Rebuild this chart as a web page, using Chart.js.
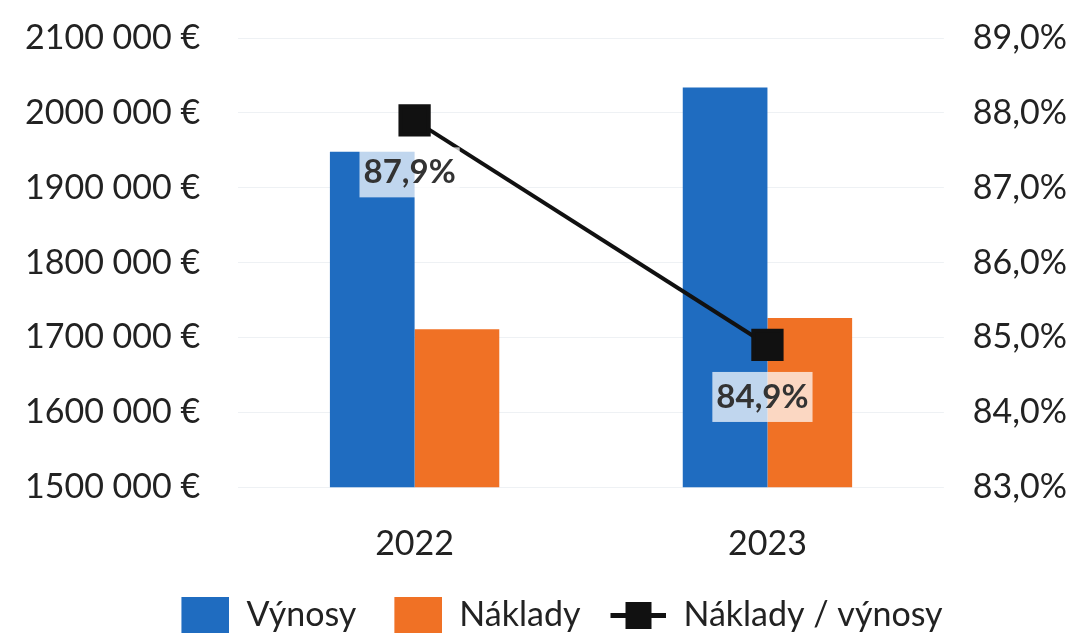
<!DOCTYPE html>
<html>
<head>
<meta charset="utf-8">
<script src="https://cdn.jsdelivr.net/npm/chart.js@4"></script>
<style>
  body { margin: 0; background: #fff; }
  #wrap { width: 1090px; height: 633px; }
</style>
</head>
<body>
<div id="wrap"><canvas id="myChart"></canvas></div>
<script>
const years = ["2022", "2023"];
const vynosy = [1948000, 2034000];
const naklady = [1711000, 1726000];
const pomer = [87.9, 84.9];

const blue = "#1f6cc0";
const orange = "#f07125";

const ctx = document.getElementById("myChart");

// legend icons, drawn at the right end of an 80px wide image
function legendIcon(color, isLine) {
  const cv = document.createElement("canvas");
  cv.width = 80;
  cv.height = 36;
  const g = cv.getContext("2d");
  g.fillStyle = color;
  if (isLine) {
    g.fillRect(24, 16, 56, 5);
    g.fillRect(39, 5, 26, 27);
  } else {
    g.fillRect(32, 0, 48, 36);
  }
  return cv;
}
const icons = [legendIcon(blue), legendIcon(orange), legendIcon("#111", true)];

// labels under the line points, on a pale box
const pointLabels = {
  id: "pointLabels",
  afterDatasetsDraw(chart) {
    const meta = chart.getDatasetMeta(2);
    const c = chart.ctx;
    c.save();
    c.font = "bold 33px Lato";
    c.textAlign = "center";
    c.textBaseline = "middle";
    meta.data.forEach((pt, i) => {
      const txt = pomer[i].toFixed(1).replace(".", ",") + "%";
      const w = c.measureText(txt).width + 8;
      const x = pt.x - 5, y = pt.y + 52;
      c.fillStyle = "rgba(255,255,255,0.72)";
      c.fillRect(x - w / 2, y - 25, w, 50);
      c.fillStyle = "#333";
      c.fillText(txt, x, y);
    });
    c.restore();
  }
};

new Chart(ctx, {
  type: "bar",
  data: {
    labels: years,
    datasets: [
      {
        label: "Výnosy",
        data: vynosy,
        backgroundColor: blue,
        yAxisID: "y",
        order: 2,
      },
      {
        label: "Náklady",
        data: naklady,
        backgroundColor: orange,
        yAxisID: "y",
        order: 2,
      },
      {
        type: "line",
        label: "Náklady / výnosy",
        data: pomer,
        borderColor: "#111",
        backgroundColor: "#111",
        borderWidth: 4,
        pointStyle: "rect",
        pointRadius: 20,
        pointHoverRadius: 20,
        yAxisID: "y1",
        order: 1,
      },
    ],
  },
  plugins: [pointLabels],
  options: {
    responsive: true,
    maintainAspectRatio: false,
    animation: false,
    layout: { autoPadding: false, padding: { left: 23, right: 21, top: 38, bottom: -9 } },
    datasets: {
      bar: { categoryPercentage: 0.48, barPercentage: 1 },
    },
    plugins: {
      tooltip: { enabled: false },
      legend: {
        position: "bottom",
        labels: {
          font: { family: "Lato", size: 34 },
          color: "#222",
          usePointStyle: true,
          pointStyleWidth: 80,
          boxHeight: 36,
          padding: 6,
          sort: (a, b) => a.datasetIndex - b.datasetIndex,
          generateLabels(chart) {
            const items = Chart.defaults.plugins.legend.labels.generateLabels(chart);
            items.forEach((it) => {
              it.pointStyle = icons[it.datasetIndex];
            });
            return items;
          },
        },
      },
    },
    scales: {
      x: {
        grid: { display: false },
        border: { display: false },
        ticks: { font: { family: "Lato", size: 34 }, color: "#222", padding: 28 },
      },
      y: {
        position: "left",
        min: 1500000,
        max: 2100000,
        ticks: {
          stepSize: 100000,
          font: { family: "Lato", size: 34 },
          color: "#222",
          padding: 2,
          callback: (v) => Math.round(v / 1000) + " 000 €",
        },
        grid: { color: "#eef1f4", drawTicks: true, tickLength: 36, tickColor: "rgba(0,0,0,0)" },
        border: { display: false },
      },
      y1: {
        position: "right",
        min: 83,
        max: 89,
        ticks: {
          stepSize: 1,
          font: { family: "Lato", size: 34 },
          color: "#222",
          padding: 2,
          callback: (v) => v.toFixed(1).replace(".", ",") + "%",
        },
        grid: { display: false, drawOnChartArea: false, drawTicks: true, tickLength: 27, tickColor: "rgba(0,0,0,0)" },
        border: { display: false },
      },
    },
  },
});
</script>
</body>
</html>
